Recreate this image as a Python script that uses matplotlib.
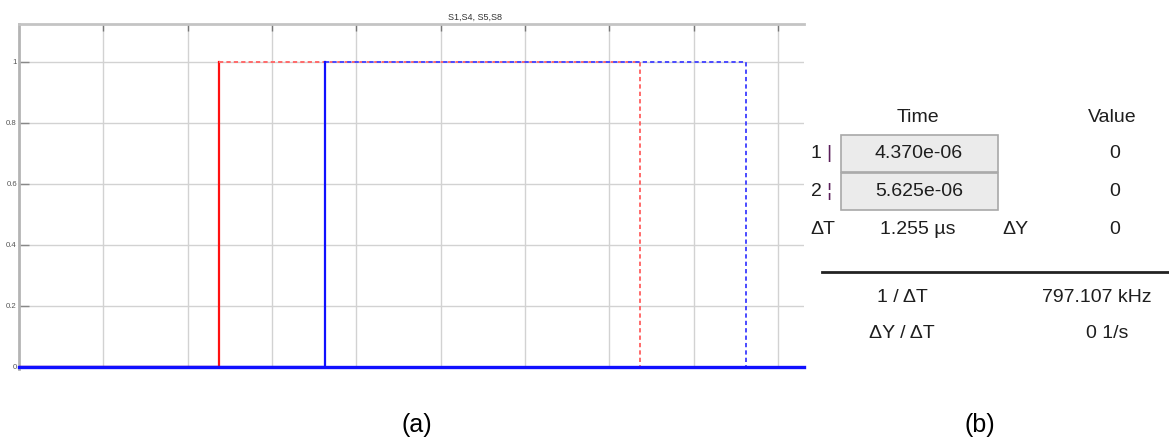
import matplotlib
matplotlib.use("Agg")
import matplotlib.pyplot as plt
from matplotlib.patches import Rectangle

plt.rcParams["font.family"] = ["Liberation Sans", "DejaVu Sans"]

# waveform data (time in microseconds)
t_s1 = [2.0, 4.370, 4.370]
s1 = [0, 0, 1]
t_s4 = [2.0, 5.625, 5.625]
s4 = [0, 0, 1]
t_s5 = [4.370, 9.370, 9.370]
s5 = [1, 1, 0]
t_s8 = [5.625, 10.625, 10.625]
s8 = [1, 1, 0]
t_base = [2.0, 11.31]
base = [0, 0]

x_grid = [3, 4, 5, 6, 7, 8, 9, 10, 11]
y_ticks = [0, 0.2, 0.4, 0.6, 0.8, 1]
y_labels = ["0", "0.2", "0.4", "0.6", "0.8", "1"]

# cursor readout panel
cursor_times = ["4.370e-06", "5.625e-06"]
cursor_values = ["0", "0"]
delta_t = "1.255 µs"
delta_y = "0"
inv_dt = "797.107 kHz"
dy_dt = "0 1/s"

W, H = 1169, 441
fig = plt.figure(figsize=(W / 100, H / 100), dpi=100)

ax = fig.add_axes([19 / W, (H - 369) / H, (804 - 19) / W, (369 - 23.5) / H])
ax.set_xlim(2.0, 11.31)
ax.set_ylim(-0.0066, 1.125)

ax.plot(t_s1, s1, color="#ff1010", linewidth=1.6, zorder=3)
ax.plot(t_s5, s5, color="#ff6a6a", linewidth=1.4, linestyle=(0, (2.2, 1.6)), zorder=3)
ax.plot(t_s8, s8, color="#4a4aff", linewidth=1.4, linestyle=(0, (2.2, 1.6)), zorder=4)
ax.plot(t_s4, s4, color="#1010ff", linewidth=1.6, zorder=5)
ax.plot(t_base, base, color="#1010ff", linewidth=2.4, zorder=5, clip_on=False)

ax.set_xticks(x_grid)
ax.set_yticks(y_ticks)
ax.set_yticklabels(y_labels)
ax.grid(True, color="#d2d2d2", linewidth=1.0, zorder=0)
ax.tick_params(axis="x", direction="in", top=True, bottom=False, labelbottom=False,
               length=5, color="#777777", width=1)
ax.tick_params(axis="y", direction="in", length=7, color="#888888", width=1,
               labelsize=5.6, labelcolor="#555555", pad=1.5)
for side in ["right", "bottom"]:
    ax.spines[side].set_visible(False)
ax.spines["top"].set_color("#c4c4c4")
ax.spines["top"].set_linewidth(2)
ax.spines["left"].set_color("#b4b4b4")
ax.spines["left"].set_linewidth(2)

fig.text(475 / W, 1 - 17 / H, "S1,S4, S5,S8", fontsize=6.5, color="#333333",
         ha="center", va="center")

# overlay in pixel coordinates for the cursor panel and captions
pan = fig.add_axes([0, 0, 1, 1])
pan.set_xlim(0, W)
pan.set_ylim(H, 0)
pan.axis("off")
pan.patch.set_alpha(0)

tc = "#1e1e1e"
fs = 14
pan.text(918, 118, "Time", fontsize=fs, color=tc, ha="center", va="center")
pan.text(1112, 118, "Value", fontsize=fs, color=tc, ha="center", va="center")

rows_y = [154, 191]
markers = ["|", "¦"]
for i, (ty, tv, val, mk) in enumerate(zip(rows_y, cursor_times, cursor_values, markers)):
    y0 = 135 if i == 0 else 173
    pan.add_patch(Rectangle((841, y0), 157, 36.5, facecolor="#ebebeb",
                            edgecolor="#a8a8a8", linewidth=1.2))
    pan.text(919, ty, tv, fontsize=fs, color=tc, ha="center", va="center")
    pan.text(816, ty, str(i + 1), fontsize=fs, color=tc, ha="center", va="center")
    pan.text(829, ty, mk, fontsize=fs, color="#5a1e5a", ha="center", va="center")
    pan.text(1115, ty, val, fontsize=fs, color=tc, ha="center", va="center")

pan.text(823, 230, "ΔT", fontsize=fs, color=tc, ha="center", va="center")
pan.text(918, 230, delta_t, fontsize=fs, color=tc, ha="center", va="center")
pan.text(1015, 230, "ΔY", fontsize=fs, color=tc, ha="center", va="center")
pan.text(1115, 230, delta_y, fontsize=fs, color=tc, ha="center", va="center")

pan.plot([822, 1169], [272, 272], color="#222222", linewidth=2)

pan.text(902, 298, "1 / ΔT", fontsize=fs, color=tc, ha="center", va="center")
pan.text(1097, 298, inv_dt, fontsize=fs, color=tc, ha="center", va="center")
pan.text(902, 333, "ΔY / ΔT", fontsize=fs, color=tc, ha="center", va="center")
pan.text(1107, 333, dy_dt, fontsize=fs, color=tc, ha="center", va="center")

pan.text(417, 425, "(a)", fontsize=18, color="black", ha="center", va="center")
pan.text(980, 425, "(b)", fontsize=18, color="black", ha="center", va="center")

fig.savefig("out.png", dpi=100)
plt.close(fig)
